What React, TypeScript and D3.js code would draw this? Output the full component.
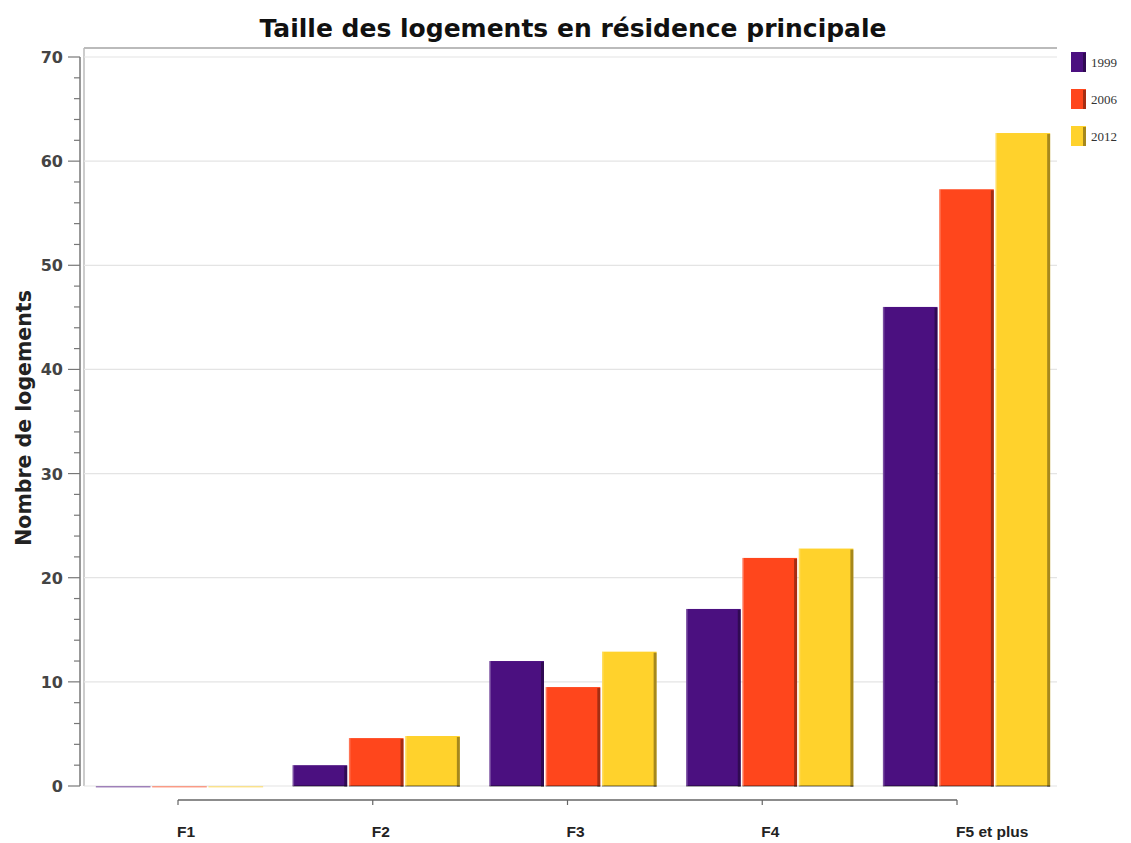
import React from "react";
import * as d3 from "d3";

const categories = ["F1", "F2", "F3", "F4", "F5 et plus"];
const seriesNames = ["1999", "2006", "2012"];
const values1999 = [0, 2, 12, 17, 46];
const values2006 = [0, 4.6, 9.5, 21.9, 57.3];
const values2012 = [0, 4.8, 12.9, 22.8, 62.7];
const seriesValues = [values1999, values2006, values2012];
const colors = ["#4B1080", "#FF461C", "#FFD22C"];
const yTicks = [0, 10, 20, 30, 40, 50, 60, 70];
const yMinorTicks = d3.range(0, 71, 2);

export default function App() {
  const W = 1131, H = 843;
  const plotLeft = 84, plotRight = 1057, plotTop = 48;
  const y = d3.scaleLinear().domain([0, 70]).range([786, 57]);
  const x0 = d3.scaleBand().domain(categories).range([86, 1060]).paddingInner(0.15).paddingOuter(0.05);
  const x1 = d3.scaleBand().domain(seriesNames).range([0, x0.bandwidth()]).paddingInner(0.03);
  const xAxis = d3.scalePoint().domain(categories).range([178, 957]);
  const font = "'Liberation Sans', Arial, sans-serif";
  const dfont = "'DejaVu Sans', Verdana, sans-serif";

  return (
    <svg width={W} height={H} style={{ position: "absolute", left: 0, top: 0, background: "#fff" }}>
      <rect x={0} y={0} width={W} height={H} fill="#fff" />
      <text x={573} y={37} textAnchor="middle" fontFamily={dfont} fontWeight="bold" fontSize={25} fill="#111">
        Taille des logements en résidence principale
      </text>
      {/* plot frame */}
      <line x1={plotLeft} x2={plotRight} y1={plotTop} y2={plotTop} stroke="#bbb" strokeWidth={2} />
      <line x1={plotLeft} x2={plotLeft} y1={plotTop} y2={786} stroke="#bbb" strokeWidth={1.5} />
      {/* gridlines */}
      {yTicks.map((t) => (
        <line key={"g" + t} x1={plotLeft} x2={plotRight} y1={y(t)} y2={y(t)} stroke="#e4e4e4" strokeWidth={1.2} />
      ))}
      {/* y axis */}
      <line x1={80} x2={80} y1={y(70)} y2={y(0)} stroke="#777" strokeWidth={1.5} />
      {yMinorTicks.map((t) => (
        <line key={"m" + t} x1={t % 10 === 0 ? 68 : 74} x2={80} y1={y(t)} y2={y(t)} stroke="#777" strokeWidth={1.2} />
      ))}
      {yTicks.map((t) => (
        <text key={"t" + t} x={63} y={y(t) + 6} textAnchor="end" fontFamily={dfont} fontWeight="bold" fontSize={16} fill="#444">
          {t}
        </text>
      ))}
      <text transform={`translate(31,418) rotate(-90)`} textAnchor="middle" fontFamily={dfont} fontWeight="bold" fontSize={20.5} fill="#222">
        Nombre de logements
      </text>
      {/* bars */}
      {categories.map((c, ci) =>
        seriesNames.map((s, si) => {
          const v = seriesValues[si][ci];
          const bx = (x0(c) as number) + (x1(s) as number);
          const bw = x1.bandwidth();
          const top = y(v);
          const h = Math.max(y(0) - top, 1.5);
          return (
            <g key={c + s}>
              <rect x={bx} y={top} width={bw} height={h} fill={colors[si]} opacity={v === 0 ? 0.5 : 1} />
              {v > 0 && (
                <>
                  <rect x={bx + bw - 3} y={top + 1} width={3} height={h} fill="#000" opacity={0.35} />
                  <rect x={bx} y={y(0) - 1} width={bw} height={2} fill="#000" opacity={0.3} />
                  <rect x={bx} y={top} width={1.5} height={h} fill="#fff" opacity={0.25} />
                </>
              )}
            </g>
          );
        })
      )}
      {/* category axis */}
      <line x1={xAxis(categories[0])} x2={xAxis(categories[categories.length - 1])} y1={800} y2={800} stroke="#666" strokeWidth={1.5} />
      {categories.map((c) => (
        <g key={"c" + c}>
          <line x1={xAxis(c)} x2={xAxis(c)} y1={800} y2={805} stroke="#666" strokeWidth={1.2} />
          <text x={(xAxis(c) as number) - 1} y={837} fontFamily={font} fontWeight="bold" fontSize={15.5} fill="#222">
            {c}
          </text>
        </g>
      ))}
      {/* legend */}
      {seriesNames.map((s, si) => (
        <g key={"l" + s} transform={`translate(1071,${52 + si * 37})`}>
          <rect x={0} y={0} width={15} height={20} fill={colors[si]} />
          <rect x={12} y={1} width={3} height={19} fill="#000" opacity={0.35} />
          <text x={20} y={15} fontFamily="'Liberation Serif', 'DejaVu Serif', serif" fontSize={13} fill="#333">
            {s}
          </text>
        </g>
      ))}
    </svg>
  );
}
